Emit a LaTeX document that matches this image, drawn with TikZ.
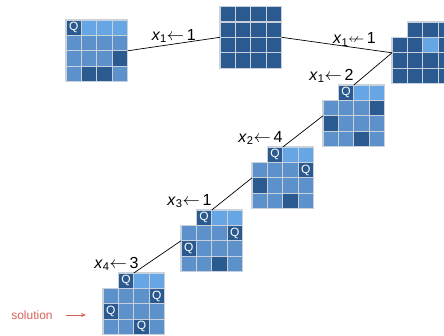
\documentclass[tikz,border=0pt]{standalone}
\usepackage{fontspec}
\usepackage{amssymb}
\setmainfont{Liberation Sans}
\newfontfamily\queenfont{Liberation Sans}
\usetikzlibrary{positioning, arrows.meta}

\definecolor{qdark}{HTML}{2A5A8F}
\definecolor{qmid}{HTML}{5C91CB}
\definecolor{qlight}{HTML}{67A6E4}
\definecolor{qgrid}{HTML}{C9D2DA}
\definecolor{solred}{HTML}{D9625A}

\newcommand{\cellpitch}{15.4}
\newcommand{\assign}[2]{\textit{x}\textsubscript{#1}$\leftarrow$\,#2}

% one 4x4 board: name, top-left corner, cells row by row
\newcommand{\board}[3]{%
  \begin{scope}[shift={#2}]
    \foreach \sq [count=\i from 0] in {#3} {
      \pgfmathtruncatemacro{\bcol}{mod(\i,4)}
      \pgfmathtruncatemacro{\brow}{\i/4}
      \node at ({(\bcol+0.5)*\cellpitch},{(\brow+0.5)*\cellpitch}) [cell\sq];
    }
    \node[boardbox] (#1) at ({2*\cellpitch},{2*\cellpitch}) {};
  \end{scope}
}

\begin{document}
\begin{tikzpicture}[
    x=1pt, y=-1pt,
    cell/.style={draw=qgrid, line width=1.2pt, minimum size={\cellpitch*1pt}, inner sep=0pt, outer sep=0pt, font=\queenfont\fontsize{12}{12}\selectfont},
    cellD/.style={cell, fill=qdark, node contents={}},
    cellM/.style={cell, fill=qmid, node contents={}},
    cellL/.style={cell, fill=qlight, node contents={}},
    cellQ/.style={cell, fill=qdark, text=white, node contents={Q}},
    celln/.style={inner sep=0pt, node contents={}},
    boardbox/.style={minimum size={4*\cellpitch*1pt}, inner sep=0pt, outer sep=0pt},
    edge/.style={line width=0.7pt},
    lbl/.style={font=\fontsize{16}{16}\selectfont, inner sep=1pt},
    assignlbl/.style={lbl, pos=1, anchor=base east, yshift=5pt, inner sep=0pt}
]
\useasboundingbox (0,0) rectangle (444,335);

% boards of the search tree
\board{b1}{(66,20)}{Q,L,L,L, M,M,M,M, M,M,M,D, M,D,D,M}
\board{b2}{(220,6.5)}{D,D,D,D, D,D,D,D, D,D,D,D, D,D,D,D}
\board{b3}{(392,22)}{n,D,D,D, D,D,L,D, D,D,D,D, D,D,D,D}
\board{b4}{(323,85)}{n,Q,L,L, M,M,M,D, D,M,M,M, M,M,D,M}
\board{b5}{(252,147)}{n,Q,L,L, M,M,M,Q, D,M,M,M, M,M,D,M}
\board{b6}{(181,210)}{n,Q,L,L, M,M,M,Q, Q,M,M,M, M,M,D,M}
\board{b7}{(103,273)}{n,Q,L,L, M,M,M,Q, Q,M,M,M, M,M,Q,M}

% branches
\draw[edge] (b2.west) -- node[lbl, above] {\assign{1}{1}} (b1.east);
\draw[edge] (b2.east) -- node[lbl, above, pos=0.66] {\textit{x}\textsubscript{1}$\nleftarrow$\,1} (b3.west);
\draw[edge] (b3.west) -- node[assignlbl] {\assign{1}{2}} (b4.north);
\draw[edge] (b4.west) -- node[assignlbl] {\assign{2}{4}} (b5.north);
\draw[edge] (b5.west) -- node[assignlbl] {\assign{3}{1}} (b6.north);
\draw[edge] (b6.west) -- node[assignlbl, xshift=5pt] {\assign{4}{3}} (b7.north);

% solution marker
\node[text=solred, font=\fontsize{12}{12}\selectfont] (sol) at (32,315) {solution};
\coordinate (solend) at (86,315);
\draw[solred, line width=0.9pt, shorten <=10pt, -{Stealth[length=5pt, width=4pt]}] (sol.east) -- (solend);
\end{tikzpicture}
\end{document}
